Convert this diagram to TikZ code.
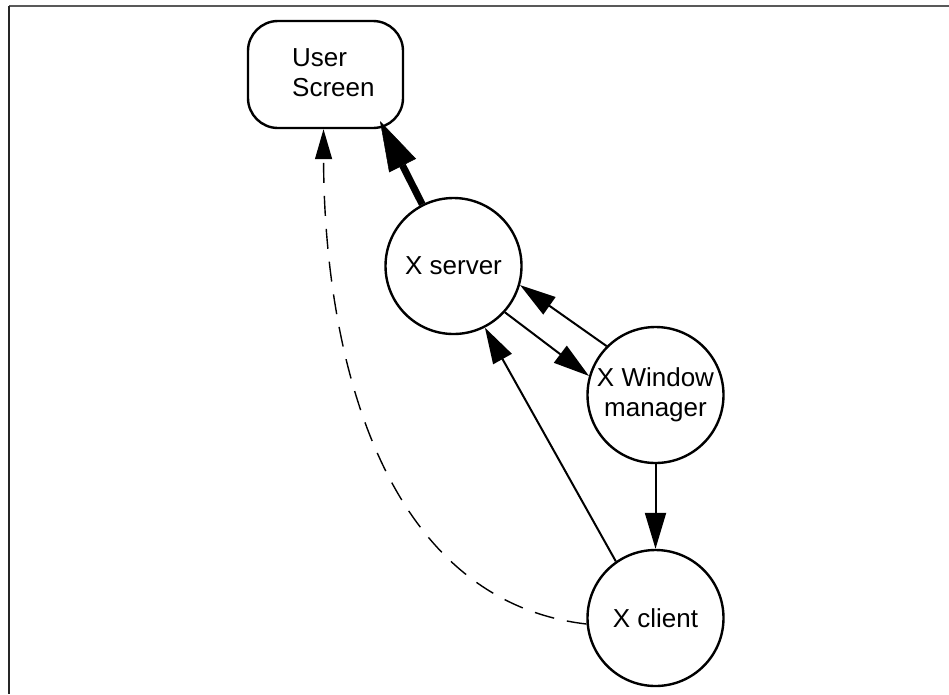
\documentclass[tikz,border=0pt]{standalone}
\usepackage{fontspec}
\setmainfont{Liberation Sans}
\usetikzlibrary{arrows.meta,calc}
\begin{document}
\begin{tikzpicture}[x=1pt,y=-1pt,
  every node/.style={font=\fontsize{26}{30}\selectfont},
  roundbox/.style={draw,line width=2.4pt,rounded corners=30pt,minimum width=155pt,minimum height=107pt,inner sep=0pt},
  circ/.style={draw,circle,line width=2.4pt,minimum size=136pt,inner sep=0pt,align=center},
  conn/.style={line width=2pt,-{Triangle[length=36pt,width=21pt]}},
  thickconn/.style={line width=7pt,-{Triangle[length=50pt,width=30pt,line width=0.5pt]}},
  dashconn/.style={line width=1.4pt,dash pattern=on 20pt off 13pt,-{Triangle[length=30pt,width=17pt]}}]
\useasboundingbox (0,0) rectangle (949,694);
\draw[line width=1.5pt,color=black!65] (9,6) -- (949,6);
\draw[line width=1.5pt,color=black!85] (9,6) -- (9,694);
\node[roundbox] (us) at (325.5,74.5) {};
\node[anchor=west,inner sep=0pt,align=left] (ustext) at (292,73) {User\\Screen};
\node[circ] (xs) at (453.5,266) {X server};
\node[circ] (wm) at (655.5,395) {X Window\\manager};
\node[circ] (xc) at (655.5,618) {X client};
\coordinate (uscorner) at ($(us.center)+(54.5,46.5)$);
\draw[thickconn] (xs) -- (uscorner);
\draw[conn] (wm.135) -- (xs.-16);
\draw[conn] (xs.-42) -- (wm.164);
\draw[conn] (xc.125) -- (xs.-63);
\draw[conn] (wm.south) -- (xc.north);
\draw[dashconn] (xc.185) .. controls (380,600) and (324,350) .. ($(us.south)+(-2,0)$);
\end{tikzpicture}
\end{document}
